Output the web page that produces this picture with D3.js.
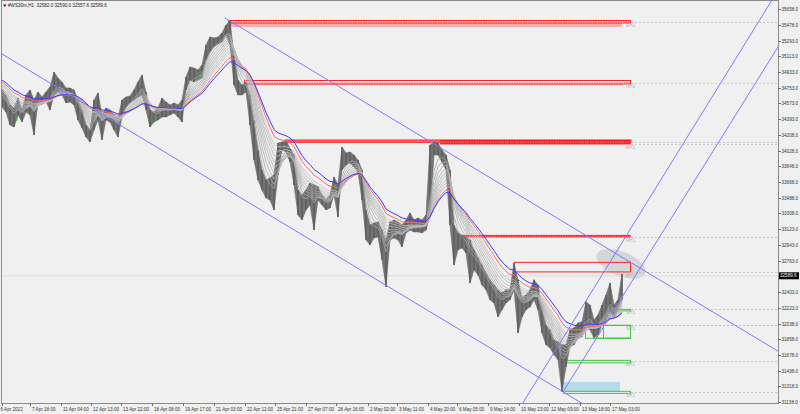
<!DOCTYPE html>
<html><head><meta charset="utf-8">
<script src="https://cdn.jsdelivr.net/npm/d3@7"></script>
<style>html,body{margin:0;padding:0;background:#f0f0f0;overflow:hidden}svg{display:block;font-family:"Liberation Sans",Arial,sans-serif}</style>
</head><body><svg id="c" width="800" height="414"></svg>
<script>
// ---------------- data ----------------
const titleText = "#WS30m,H1  32582.0 32590.0 32557.6 32589.6";
const barsPerPoint = 4; // each point aggregates 4 H1 bars
const highs = [34727,34669,34554,34520,34635,34497,34669,34727,34612,34704,34646,34704,34761,34933,34864,34818,34750,34750,34727,34612,
34497,34324,34267,34612,34692,34439,34520,34497,34439,34405,34612,34646,34658,34727,34818,34899,34704,34497,34474,34520,
34635,34589,34554,34577,34554,34612,34876,34991,34979,34956,35014,35244,35336,35324,35336,35382,35474,35520,35129,34841,
34784,34818,34669,34382,34037,33807,33692,33715,33750,34117,34129,34140,34060,33979,33577,33520,33577,33658,33635,33612,
33520,33462,33520,33727,33635,34071,34002,34014,33979,33922,33807,33347,33175,33198,33209,33117,33002,33209,33232,33209,
33175,33232,33313,33232,33255,33232,33290,34094,34129,34117,34037,33979,33807,33175,33083,33060,33037,33002,32888,32796,
32715,32623,32543,32485,32428,32393,32428,32428,32738,32543,32336,32370,32428,32543,32485,32198,32025,31968,31853,31830,
31796,31796,31968,31991,32048,32060,32290,32255,32083,32140,32255,32370,32508,32255,32313,32610];
const lows = [34531,34474,34324,34301,34439,34359,34474,34439,34209,34577,34577,34589,34497,34669,34704,34669,34577,34589,34554,34382,
34290,34186,34129,34267,34382,34152,34382,34359,34267,34186,34416,34531,34577,34612,34646,34669,34497,34301,34359,34382,
34416,34416,34439,34462,34416,34359,34727,34841,34818,34841,34864,35071,35163,35221,35255,35278,35359,35244,34784,34669,
34669,34704,34324,33922,33692,33577,33485,33462,33347,33750,34037,34014,33899,33635,33290,33232,33347,33405,33117,33462,
33405,33347,33370,33520,33267,33807,33864,33887,33841,33784,33462,33002,32945,33025,33037,32773,32462,33002,33025,33002,
32922,33083,33117,33094,33094,33083,33117,33290,33979,33979,33899,33807,33175,32715,32888,32910,32853,32508,32658,32600,
32485,32428,32313,32278,32117,32198,32278,32313,32428,31933,32117,32198,32232,32313,32198,31933,31796,31761,31681,31623,
31255,31543,31773,31796,31876,31888,32025,31968,31876,31911,32025,32060,32175,32106,32198,32313];
const lastClose = 32589.6;

const priceTicks = [35658,35478,35293,35113,34933,34753,34573,34393,34208,34028,33848,33668,33488,33308,33123,32943,32763,32403,32223,32038,31858,31678,31498,31318,31138];
const timeLabels = ["6 Apr 2022","7 Apr 18:00","11 Apr 04:00","12 Apr 13:00","13 Apr 22:00","18 Apr 08:00","19 Apr 17:00","21 Apr 03:00","22 Apr 12:00","25 Apr 21:00","27 Apr 07:00","28 Apr 16:00","2 May 02:00","3 May 11:00","4 May 20:00","6 May 05:00","9 May 14:00","10 May 23:00","12 May 09:00","13 May 18:00","17 May 03:00"];
const timeTickBars = [0,28,59,89,119,150,181,212,243,273,304,334,366,395,426,455,486,517,547,578,608];

// moving-average ribbon: periods (H1 bars) and their values at the first visible bar
const maPeriods = [10,14,18,22,26,30,35,40,45,55,65];
const maStart   = [34646,34669,34692,34715,34738,34750,34773,34784,34796,34818,34841];

// supply / demand zones: start bar, top, bottom, level, label
const zoneStart  = [226,242,283,438,460,512,583,594,601,610,564,561];
const zoneTop    = [35531,34841,34152,34152,33060,32750,32025,32025,32025,32209,31623,31267];
const zoneBottom = [35451,34784,34123,34100,33031,32629,31865,31865,31865,32181,31583,31232];
const zoneLevel  = [35508,34807,34129,34106,33037,32629,32025,32025,32025,32209,31612,31255];
const zoneLabel  = ["RH1","RH1","","RH1","RH1","RH1","SH1","","","SH1","SH1","SH1"];
const baseBox = {start:561, end:618, top:31370, bottom:31255};

// trend lines: two anchors each [bar, price]
const trendA = [[223,35554],[0,35140],[524,31186],[561,31255]];
const trendB = [[583,33060],[571,31186],[770,35761],[776,35221]];
const trendRay = [true,false,false,true];

const signalBars = [15,153,196,333];
const signalPrices = [34405,34405,34899,33612];

const focus = {bar:619, price:32727, rBars:26, rPrice:140};

// ---------------- drawing ----------------
const svg = d3.select("#c");
const P = {l:2, t:1, r:778, b:403};
const x = d3.scaleLinear().domain([0,776]).range([P.l,P.r]);
const y = d3.scaleLinear().domain([31127,35761]).range([P.b,0]);
const lastBar = (highs.length-1)*barsPerPoint;
const zoneEnd = lastBar + 9;

svg.append("rect").attr("width",800).attr("height",414).attr("fill","#f0f0f0");
svg.append("defs").append("clipPath").attr("id","clip").append("rect")
  .attr("x",P.l).attr("y",P.t).attr("width",P.r-P.l).attr("height",P.b-P.t);
const g = svg.append("g").attr("clip-path","url(#clip)");

// focus ellipse
g.append("ellipse").attr("cx",x(focus.bar)).attr("cy",y(focus.price))
  .attr("rx",x(focus.rBars)-x(0)).attr("ry",y(31127)-y(31127+focus.rPrice))
  .attr("transform",`rotate(22,${x(focus.bar)},${y(focus.price)})`)
  .attr("fill","#d6d6d6");

// current price line
g.append("line").attr("x1",P.l).attr("x2",P.r).attr("y1",y(lastClose)).attr("y2",y(lastClose))
  .attr("stroke","#dcdcdc").attr("stroke-width",1);

// dotted level lines to the axis
zoneLevel.forEach((lv,i)=>{
  g.append("line").attr("x1",x(zoneEnd)).attr("x2",P.r).attr("y1",Math.round(y(lv))+0.5).attr("y2",Math.round(y(lv))+0.5)
   .attr("stroke","#bdbdbd").attr("stroke-width",0.8).attr("stroke-dasharray","2,2");
});

// light blue base box
g.append("rect").attr("x",x(baseBox.start)).attr("width",x(baseBox.end)-x(baseBox.start))
  .attr("y",y(baseBox.top)).attr("height",y(baseBox.bottom)-y(baseBox.top)).attr("fill","#b4dbe8");

// zones
const red="#ff2020", green="#44c444";
zoneStart.forEach((s,i)=>{
  const x0=x(s), x1=x(zoneEnd), xf=x(lastBar);
  const yt=y(zoneTop[i]), yb=y(zoneBottom[i]), yl=y(zoneLevel[i]);
  if(i<=1){ // pink band with outline
    g.append("rect").attr("x",x0).attr("width",xf-x0).attr("y",yl+1).attr("height",yb-yl-1).attr("fill","#f5acac");
    g.append("rect").attr("x",x0+0.5).attr("width",x1-x0-1).attr("y",yt+0.5).attr("height",yl-yt+0.5).attr("fill","none").attr("stroke",red).attr("stroke-width",1);
    g.append("line").attr("x1",x0).attr("x2",x1).attr("y1",yl).attr("y2",yl).attr("stroke","#e04040").attr("stroke-width",0.8).attr("stroke-dasharray","1.5,1");
  } else if(i===2){
    g.append("rect").attr("x",x0).attr("width",x1-x0).attr("y",yt).attr("height",yb-yt).attr("fill","#ff6060").attr("stroke",red).attr("stroke-width",0.8);
  } else if(i===3 || i===4){
    g.append("rect").attr("x",x0).attr("width",x1-x0).attr("y",yt).attr("height",yb-yt).attr("fill",red);
    g.append("line").attr("x1",x0).attr("x2",x1).attr("y1",(yt+yb)/2).attr("y2",(yt+yb)/2).attr("stroke","#ff9a9a").attr("stroke-width",0.8).attr("stroke-dasharray","1.5,1");
  } else if(i===5){
    g.append("rect").attr("x",x0+0.5).attr("width",x1-x0-1).attr("y",yt+0.5).attr("height",yb-yt-1).attr("fill","none").attr("stroke",red).attr("stroke-width",1);
    g.append("line").attr("x1",x0).attr("x2",x1).attr("y1",yb-0.5).attr("y2",yb-0.5).attr("stroke","#ff8080").attr("stroke-width",0.8).attr("stroke-dasharray","1.5,1");
  } else {
    g.append("rect").attr("x",x0+0.5).attr("width",x1-x0-1).attr("y",yt+0.5).attr("height",Math.max(1.5,yb-yt-1)).attr("fill","none").attr("stroke",green).attr("stroke-width",1);
  }
});

// price: band between highs and lows plus bar strokes
const pts = highs.map((h,k)=>({bar:k*barsPerPoint, hi:h, lo:lows[k], mid:(h+lows[k])/2}));
g.append("path").datum(pts).attr("fill","#747474").attr("stroke","#6a6a6a").attr("stroke-width",0.6)
  .attr("d",d3.area().x(d=>x(d.bar)).y0(d=>y(d.lo)).y1(d=>y(d.hi)));
g.selectAll("line.bar").data(pts).join("line").attr("class","bar")
  .attr("x1",d=>x(d.bar)).attr("x2",d=>x(d.bar)).attr("y1",d=>y(d.hi)).attr("y2",d=>y(d.lo))
  .attr("stroke","#5e5e5e").attr("stroke-width",1.6);

// MA ribbon
const maColors = ["#a4a4a4","#a8a8a8","#acacac","#afafaf","#b2b2b2","#b5b5b5","#b8b8b8","#bbbbbb","#bebebe","#ff6a6a","#3a3aff"];
maPeriods.forEach((n,i)=>{
  const a = 1-Math.pow(1-2/(n+1),barsPerPoint);
  let v = maStart[i];
  const vals = pts.map((d,k)=>{ if(k>0) v = v + a*(d.mid-v); return {bar:d.bar,v}; });
  g.append("path").datum(vals).attr("fill","none").attr("stroke",maColors[i]).attr("stroke-width",i>=9?1:0.8)
    .attr("d",d3.line().x(d=>x(d.bar)).y(d=>y(d.v)));
});

// trend lines
trendA.forEach((a,i)=>{
  const b=trendB[i];
  const slope=(b[1]-a[1])/(b[0]-a[0]);
  const xs = trendRay[i]? a[0] : -50;
  const xe = 900;
  g.append("line").attr("x1",x(xs)).attr("y1",y(a[1]+slope*(xs-a[0])))
    .attr("x2",x(xe)).attr("y2",y(a[1]+slope*(xe-a[0])))
    .attr("stroke","#7a7aff").attr("stroke-width",1);
});

// signals
signalBars.forEach((b,i)=>{
  g.append("line").attr("x1",x(b)).attr("x2",x(b)).attr("y1",y(signalPrices[i])-3).attr("y2",y(signalPrices[i])+3)
   .attr("stroke","#33bb33").attr("stroke-width",1);
});

// zone labels
zoneLevel.forEach((lv,i)=>{
  if(!zoneLabel[i]) return;
  svg.append("text").attr("x",x(zoneEnd)-5).attr("y",y(lv)+4.8).attr("font-size",4.6)
    .attr("fill","#b0b0b0").text(zoneLabel[i]);
});

// frame
svg.append("rect").attr("x",P.l-0.5).attr("y",P.t-0.5).attr("width",P.r-P.l+1).attr("height",P.b-P.t+1)
  .attr("fill","none").attr("stroke","#8a8a8a").attr("stroke-width",1);

// right axis
priceTicks.forEach(v=>{
  const yy=Math.round(y(v))+0.5;
  svg.append("line").attr("x1",P.r).attr("x2",P.r+3).attr("y1",yy).attr("y2",yy).attr("stroke","#707070");
  svg.append("text").attr("x",P.r+3.5).attr("y",yy+1.6).attr("font-size",4.6).attr("fill","#333").text(v.toFixed(1));
});
// current price tag
const yc=y(lastClose);
svg.append("rect").attr("x",P.r+1).attr("y",yc-3.5).attr("width",20).attr("height",7).attr("fill","#000");
svg.append("text").attr("x",P.r+2).attr("y",yc+1.6).attr("font-size",4.6).attr("fill","#fff").text(lastClose.toFixed(1));

// bottom axis
timeTickBars.forEach((b,i)=>{
  const xx=Math.round(x(b))+0.5;
  svg.append("line").attr("x1",xx).attr("x2",xx).attr("y1",P.b).attr("y2",P.b+3).attr("stroke","#707070");
  svg.append("text").attr("x",i===0?0.5:xx+1.5).attr("y",P.b+8).attr("font-size",4.6).attr("fill","#333").text(timeLabels[i]);
});

// title
svg.append("path").attr("d","M3,4.5 L6.5,4.5 L4.75,7 Z").attr("fill","#222");
svg.append("text").attr("x",8).attr("y",7.4).attr("font-size",4.6).attr("fill","#222")
  .style("white-space","pre").text(titleText);
</script></body></html>
